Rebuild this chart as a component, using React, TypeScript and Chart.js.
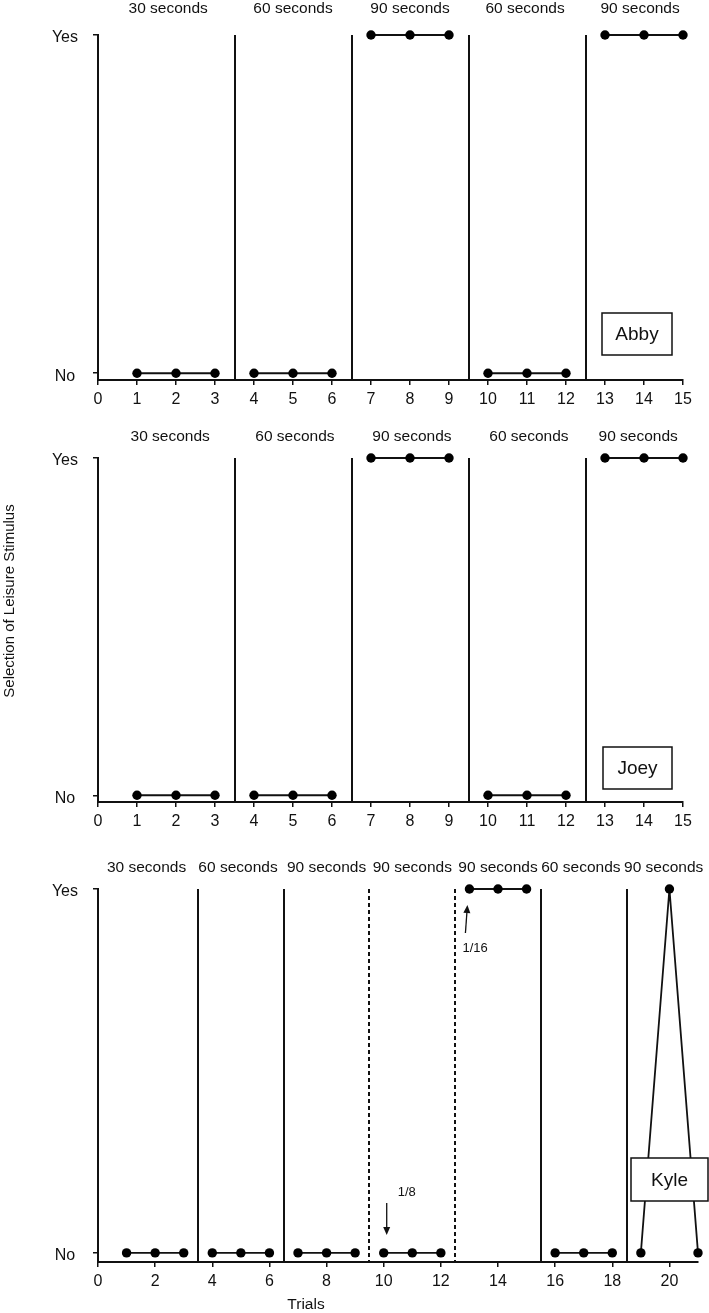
import React, { useEffect, useRef } from 'react';
import { Chart, registerables } from 'chart.js';

Chart.register(...registerables);

const FONT = '"Liberation Sans", Arial, Helvetica, sans-serif';
const INK = '#111111';

// ---------- shared y axis ----------
const yTickValues = [0, 1];
const yTickLabels = ['No', 'Yes'];

// ---------- Abby ----------
const abbyTrials = [1, 2, 3, 4, 5, 6, 7, 8, 9, 10, 11, 12, 13, 14, 15];
const abbySelection = [0, 0, 0, 0, 0, 0, 1, 1, 1, 0, 0, 0, 1, 1, 1];
const abbyPhaseChanges = [3.5, 6.5, 9.5, 12.5];
const abbyPhaseDashed = [false, false, false, false];
const abbyPhaseLabels = ['30 seconds', '60 seconds', '90 seconds', '60 seconds', '90 seconds'];
const abbyPhaseLabelX = [1.8, 5, 8, 10.95, 13.9];
const abbyXTicks = [0, 1, 2, 3, 4, 5, 6, 7, 8, 9, 10, 11, 12, 13, 14, 15];

// ---------- Joey ----------
const joeyTrials = [1, 2, 3, 4, 5, 6, 7, 8, 9, 10, 11, 12, 13, 14, 15];
const joeySelection = [0, 0, 0, 0, 0, 0, 1, 1, 1, 0, 0, 0, 1, 1, 1];
const joeyPhaseChanges = [3.5, 6.5, 9.5, 12.5];
const joeyPhaseDashed = [false, false, false, false];
const joeyPhaseLabels = ['30 seconds', '60 seconds', '90 seconds', '60 seconds', '90 seconds'];
const joeyPhaseLabelX = [1.85, 5.05, 8.05, 11.05, 13.85];
const joeyXTicks = [0, 1, 2, 3, 4, 5, 6, 7, 8, 9, 10, 11, 12, 13, 14, 15];

// ---------- Kyle ----------
const kyleTrials = [1, 2, 3, 4, 5, 6, 7, 8, 9, 10, 11, 12, 13, 14, 15, 16, 17, 18, 19, 20, 21];
const kyleSelection = [0, 0, 0, 0, 0, 0, 0, 0, 0, 0, 0, 0, 1, 1, 1, 0, 0, 0, 0, 1, 0];
const kylePhaseChanges = [3.5, 6.5, 9.5, 12.5, 15.5, 18.5];
const kylePhaseDashed = [false, false, true, true, false, false];
const kylePhaseLabels = ['30 seconds', '60 seconds', '90 seconds', '90 seconds', '90 seconds', '60 seconds', '90 seconds'];
const kylePhaseLabelX = [1.7, 4.9, 8, 11, 14, 16.9, 19.8];
const kyleXTicks = [0, 2, 4, 6, 8, 10, 12, 14, 16, 18, 20];
const kyleNoteTexts = ['1/8', '1/16'];
const kyleNoteTrials = [10, 13];
const kyleNoteValues = [0, 1];

type Note = { text: string; trial: number; value: number };

type PanelCfg = {
  name: string;
  trials: number[];
  values: number[];
  changes: number[];
  dashed: boolean[];
  labels: string[];
  labelX: number[];
  xTicks: number[];
  xMax: number;
  yMin: number;
  top: number;
  height: number;
  padTop: number;
  padRight: number;
  xAxisHeight: number;
  labelRise: number;
  box: { right: number; bottom: number; w: number; h: number };
  notes?: Note[];
  yTitle?: { text: string; x: number; y: number };
  xTitle?: { text: string; x: number; y: number };
};

function buildPoints(trials: number[], values: number[], changes: number[]) {
  const pts: { x: number; y: number | null }[] = [];
  trials.forEach((t, i) => {
    if (i > 0) {
      const prev = trials[i - 1];
      const boundary = changes.find((c) => c > prev && c < t);
      if (boundary !== undefined) pts.push({ x: boundary, y: null });
    }
    pts.push({ x: t, y: values[i] });
  });
  return pts;
}

const panels: PanelCfg[] = [
  {
    name: 'Abby',
    trials: abbyTrials,
    values: abbySelection,
    changes: abbyPhaseChanges,
    dashed: abbyPhaseDashed,
    labels: abbyPhaseLabels,
    labelX: abbyPhaseLabelX,
    xTicks: abbyXTicks,
    xMax: 15,
    yMin: -0.02,
    top: 0,
    height: 410,
    padTop: 35,
    padRight: 26,
    xAxisHeight: 30,
    labelRise: 22.5,
    box: { right: -11, bottom: -25, w: 70, h: 42 },
  },
  {
    name: 'Joey',
    trials: joeyTrials,
    values: joeySelection,
    changes: joeyPhaseChanges,
    dashed: joeyPhaseDashed,
    labels: joeyPhaseLabels,
    labelX: joeyPhaseLabelX,
    xTicks: joeyXTicks,
    xMax: 15,
    yMin: -0.02,
    top: 410,
    height: 422,
    padTop: 48,
    padRight: 26,
    xAxisHeight: 30,
    labelRise: 17,
    box: { right: -11, bottom: -13, w: 69, h: 42 },
    yTitle: { text: 'Selection of Leisure Stimulus', x: 10, y: 191 },
  },
  {
    name: 'Kyle',
    trials: kyleTrials,
    values: kyleSelection,
    changes: kylePhaseChanges,
    dashed: kylePhaseDashed,
    labels: kylePhaseLabels,
    labelX: kylePhaseLabelX,
    xTicks: kyleXTicks,
    xMax: 21,
    yMin: -0.025,
    top: 832,
    height: 481,
    padTop: 57,
    padRight: 11,
    xAxisHeight: 51,
    labelRise: 17,
    box: { right: 10, bottom: -61, w: 77, h: 43 },
    notes: kyleNoteTexts.map((text, i) => ({ text, trial: kyleNoteTrials[i], value: kyleNoteValues[i] })),
    xTitle: { text: 'Trials', x: 306, y: 477 },
  },
];

function drawArrow(ctx: CanvasRenderingContext2D, x1: number, y1: number, x2: number, y2: number) {
  const ang = Math.atan2(y2 - y1, x2 - x1);
  const head = 8;
  const half = 3.5;
  const bx = x2 - head * Math.cos(ang);
  const by = y2 - head * Math.sin(ang);
  ctx.save();
  ctx.strokeStyle = INK;
  ctx.fillStyle = INK;
  ctx.lineWidth = 1.3;
  ctx.beginPath();
  ctx.moveTo(x1, y1);
  ctx.lineTo(bx, by);
  ctx.stroke();
  ctx.beginPath();
  ctx.moveTo(x2, y2);
  ctx.lineTo(bx + half * Math.sin(ang), by - half * Math.cos(ang));
  ctx.lineTo(bx - half * Math.sin(ang), by + half * Math.cos(ang));
  ctx.closePath();
  ctx.fill();
  ctx.restore();
}

function PanelChart({ cfg }: { cfg: PanelCfg }) {
  const ref = useRef<HTMLCanvasElement>(null);

  useEffect(() => {
    const canvas = ref.current;
    if (!canvas) return;

    const overlay = {
      id: 'overlay_' + cfg.name,
      beforeDatasetsDraw(chart: any) {
        const { ctx, chartArea, scales } = chart;
        const xs = scales.x;
        ctx.save();
        ctx.strokeStyle = INK;
        ctx.lineWidth = 2;
        cfg.changes.forEach((c, i) => {
          const px = Math.round(xs.getPixelForValue(c));
          ctx.setLineDash(cfg.dashed[i] ? [4, 3] : []);
          ctx.beginPath();
          ctx.moveTo(px, chartArea.top);
          ctx.lineTo(px, chartArea.bottom);
          ctx.stroke();
        });
        ctx.restore();
      },
      afterDatasetsDraw(chart: any) {
        const { ctx, chartArea, scales } = chart;
        const xs = scales.x;
        const ys = scales.y;
        ctx.save();
        // phase labels
        ctx.fillStyle = INK;
        ctx.font = `15.5px ${FONT}`;
        ctx.textAlign = 'center';
        ctx.textBaseline = 'alphabetic';
        cfg.labels.forEach((lab, i) => {
          ctx.fillText(lab, xs.getPixelForValue(cfg.labelX[i]), chartArea.top - cfg.labelRise);
        });

        // name box
        const bx2 = chartArea.right + cfg.box.right;
        const by2 = chartArea.bottom + cfg.box.bottom;
        const bx1 = bx2 - cfg.box.w;
        const by1 = by2 - cfg.box.h;
        ctx.fillStyle = '#ffffff';
        ctx.fillRect(bx1, by1, cfg.box.w, cfg.box.h);
        ctx.strokeStyle = INK;
        ctx.lineWidth = 1.5;
        ctx.strokeRect(bx1, by1, cfg.box.w, cfg.box.h);
        ctx.fillStyle = INK;
        ctx.font = `19px ${FONT}`;
        ctx.textAlign = 'center';
        ctx.textBaseline = 'middle';
        ctx.fillText(cfg.name, (bx1 + bx2) / 2, (by1 + by2) / 2 + 1);

        // notes with arrows
        (cfg.notes || []).forEach((n) => {
          const px = xs.getPixelForValue(n.trial);
          const py = ys.getPixelForValue(n.value);
          ctx.font = `13px ${FONT}`;
          ctx.textAlign = 'left';
          ctx.textBaseline = 'alphabetic';
          ctx.fillStyle = INK;
          if (n.value === 0) {
            drawArrow(ctx, px + 3, py - 50, px + 3, py - 18);
            ctx.fillText(n.text, px + 14, py - 57);
          } else {
            drawArrow(ctx, px - 4, py + 44, px - 2, py + 16);
            ctx.fillText(n.text, px - 7, py + 63);
          }
        });

        // axis titles
        if (cfg.yTitle) {
          ctx.save();
          ctx.translate(cfg.yTitle.x, cfg.yTitle.y);
          ctx.rotate(-Math.PI / 2);
          ctx.font = `15px ${FONT}`;
          ctx.textAlign = 'center';
          ctx.textBaseline = 'middle';
          ctx.fillStyle = INK;
          ctx.fillText(cfg.yTitle.text, 0, 0);
          ctx.restore();
        }
        if (cfg.xTitle) {
          ctx.font = `15.5px ${FONT}`;
          ctx.textAlign = 'center';
          ctx.textBaseline = 'alphabetic';
          ctx.fillStyle = INK;
          ctx.fillText(cfg.xTitle.text, cfg.xTitle.x, cfg.xTitle.y);
        }
        ctx.restore();
      },
    };

    const tickGrid = {
      display: true,
      drawOnChartArea: false,
      drawTicks: true,
      tickLength: 5,
      color: INK,
      lineWidth: 1.5,
    };

    const chart = new Chart(canvas, {
      type: 'line',
      data: {
        datasets: [
          {
            data: buildPoints(cfg.trials, cfg.values, cfg.changes) as any,
            borderColor: INK,
            borderWidth: 1.8,
            pointRadius: 4.7,
            pointHoverRadius: 4.7,
            pointBackgroundColor: '#000000',
            pointBorderColor: '#000000',
            pointBorderWidth: 0,
            spanGaps: false,
            tension: 0,
            clip: false as any,
            fill: false,
          },
        ],
      },
      options: {
        animation: false,
        responsive: false,
        devicePixelRatio: 1,
        events: [],
        layout: { padding: { top: cfg.padTop, right: cfg.padRight, left: 0, bottom: 0 } },
        plugins: { legend: { display: false }, tooltip: { enabled: false }, title: { display: false } },
        scales: {
          x: {
            type: 'linear',
            min: 0,
            max: cfg.xMax,
            afterBuildTicks: (s: any) => {
              s.ticks = cfg.xTicks.map((v) => ({ value: v }));
            },
            afterFit: (s: any) => {
              s.height = cfg.xAxisHeight;
            },
            ticks: {
              font: { family: FONT, size: 16 },
              color: INK,
              padding: 5,
              maxRotation: 0,
              autoSkip: false,
              callback: (v: any) => String(v),
            },
            grid: tickGrid as any,
            border: { display: true, color: INK, width: 2 },
          },
          y: {
            type: 'linear',
            min: cfg.yMin,
            max: 1,
            afterBuildTicks: (s: any) => {
              s.ticks = yTickValues.map((v) => ({ value: v }));
            },
            afterFit: (s: any) => {
              s.width = 98;
            },
            ticks: {
              font: { family: FONT, size: 16 },
              color: INK,
              padding: 15,
              crossAlign: 'center',
              labelOffset: 3,
              autoSkip: false,
              callback: (v: any) => {
                const idx = yTickValues.indexOf(Number(v));
                return idx >= 0 ? yTickLabels[idx] : '';
              },
            },
            grid: tickGrid as any,
            border: { display: true, color: INK, width: 2 },
          },
        },
      } as any,
      plugins: [overlay],
    });

    return () => chart.destroy();
  }, [cfg]);

  return (
    <canvas
      ref={ref}
      width={709}
      height={cfg.height}
      style={{ position: 'absolute', left: 0, top: cfg.top, width: 709, height: cfg.height, display: 'block' }}
    />
  );
}

export default function App() {
  return (
    <div
      style={{
        position: 'absolute',
        left: 0,
        top: 0,
        width: 709,
        height: 1313,
        background: '#ffffff',
        overflow: 'hidden',
      }}
    >
      {panels.map((p) => (
        <PanelChart key={p.name} cfg={p} />
      ))}
    </div>
  );
}
